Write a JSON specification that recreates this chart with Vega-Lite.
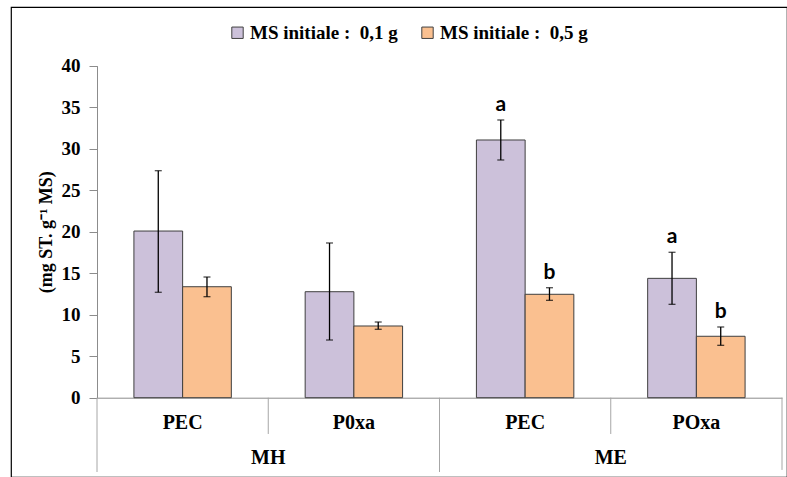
{
  "$schema": "https://vega.github.io/schema/vega-lite/v6.json",
  "width": 776,
  "height": 470,
  "autosize": {"type": "none"},
  "padding": {"left": 11, "top": 7, "right": 0, "bottom": 0},
  "background": "white",
  "config": {
    "view": {"stroke": "#000000", "strokeWidth": 1.2},
    "font": "Liberation Serif",
    "legend": {"labelFont": "Liberation Serif", "labelFontWeight": "bold"},
    "axis": {"labelFont": "Liberation Serif", "titleFont": "Liberation Serif"},
    "axisX": {"offset": -79.3, "domainColor": "#8c8c8c", "ticks": false, "labels": false, "grid": false},
    "axisY": {"offset": -86, "domainColor": "#8c8c8c", "tickColor": "#8c8c8c", "tickSize": 8, "labelPadding": 9,
      "labelFont": "Liberation Serif", "labelFontSize": 19, "labelFontWeight": "bold", "labelColor": "#000000",
      "titleFont": "Liberation Serif", "titleFontSize": 18, "titleFontWeight": "bold", "titleColor": "#000000",
      "titlePadding": 6, "grid": false}
  },
  "data": {
    "values": [
      {"type": "MH", "sub": "PEC", "key": "MH|PEC", "series": "MS initiale : \u00a00,1 g", "value": 20.08, "lo": 12.7, "hi": 27.35, "letter": null},
      {"type": "MH", "sub": "PEC", "key": "MH|PEC", "series": "MS initiale : \u00a00,5 g", "value": 13.37, "lo": 12.17, "hi": 14.54, "letter": null},
      {"type": "MH", "sub": "P0xa", "key": "MH|P0xa", "series": "MS initiale : \u00a00,1 g", "value": 12.77, "lo": 6.95, "hi": 18.64, "letter": null},
      {"type": "MH", "sub": "P0xa", "key": "MH|P0xa", "series": "MS initiale : \u00a00,5 g", "value": 8.64, "lo": 8.24, "hi": 9.12, "letter": null},
      {"type": "ME", "sub": "PEC", "key": "ME|PEC", "series": "MS initiale : \u00a00,1 g", "value": 31.05, "lo": 28.64, "hi": 33.46, "letter": "a"},
      {"type": "ME", "sub": "PEC", "key": "ME|PEC", "series": "MS initiale : \u00a00,5 g", "value": 12.46, "lo": 11.73, "hi": 13.25, "letter": "b"},
      {"type": "ME", "sub": "POxa", "key": "ME|POxa", "series": "MS initiale : \u00a00,1 g", "value": 14.38, "lo": 11.25, "hi": 17.52, "letter": "a"},
      {"type": "ME", "sub": "POxa", "key": "ME|POxa", "series": "MS initiale : \u00a00,5 g", "value": 7.4, "lo": 6.31, "hi": 8.52, "letter": "b"}
    ]
  },
  "layer": [
    {
      "mark": {"type": "bar", "stroke": "#3f3f3f", "strokeWidth": 1},
      "encoding": {
        "x": {"field": "key", "type": "nominal", "sort": null, "title": null,
          "scale": {"range": [86, 771], "paddingInner": 0, "paddingOuter": 0}},
        "xOffset": {"field": "series", "type": "nominal", "sort": null, "scale": {"paddingOuter": 0.758, "paddingInner": 0}},
        "y": {"field": "value", "type": "quantitative", "title": "(mg ST. g\u207b\u00b9 MS)",
          "scale": {"domain": [0, 40], "range": [390.7, 58.7], "nice": false, "zero": true},
          "axis": {"values": [0, 5, 10, 15, 20, 25, 30, 35, 40], "labelFont": "Liberation Serif", "labelFontWeight": "bold", "labelFontSize": 19}},
        "color": {"field": "series", "type": "nominal", "sort": null,
          "scale": {"range": ["#CCC1DA", "#FAC090"]},
          "legend": {"orient": "none", "legendX": 217, "legendY": 16, "direction": "horizontal", "title": null,
            "padding": 0, "symbolType": "square", "symbolSize": 130, "symbolStrokeColor": "#404040", "symbolStrokeWidth": 1,
            "labelFont": "Liberation Serif", "labelFontSize": 19, "labelFontWeight": "bold", "labelColor": "#000000",
            "columnPadding": 20, "labelOffset": 3, "labelLimit": 300}}
      }
    },
    {
      "mark": {"type": "rule", "color": "#000000", "strokeWidth": 1.3},
      "encoding": {
        "x": {"field": "key", "type": "nominal", "sort": null, "title": null},
        "xOffset": {"field": "series", "type": "nominal", "sort": null},
        "y": {"field": "lo", "type": "quantitative", "title": "(mg ST. g\u207b\u00b9 MS)"},
        "y2": {"field": "hi"}
      }
    },
    {
      "mark": {"type": "tick", "color": "#000000", "size": 7, "thickness": 1.3},
      "encoding": {
        "x": {"field": "key", "type": "nominal", "sort": null, "title": null},
        "xOffset": {"field": "series", "type": "nominal", "sort": null},
        "y": {"field": "hi", "type": "quantitative", "title": "(mg ST. g\u207b\u00b9 MS)"}
      }
    },
    {
      "mark": {"type": "tick", "color": "#000000", "size": 7, "thickness": 1.3},
      "encoding": {
        "x": {"field": "key", "type": "nominal", "sort": null, "title": null},
        "xOffset": {"field": "series", "type": "nominal", "sort": null},
        "y": {"field": "lo", "type": "quantitative", "title": "(mg ST. g\u207b\u00b9 MS)"}
      }
    },
    {
      "transform": [{"filter": "datum.letter != null"}],
      "mark": {"type": "text", "font": "Lato", "fontWeight": "bold", "fontSize": 21, "dy": -9, "baseline": "alphabetic", "color": "#000000"},
      "encoding": {
        "x": {"field": "key", "type": "nominal", "sort": null, "title": null},
        "xOffset": {"field": "series", "type": "nominal", "sort": null},
        "y": {"field": "hi", "type": "quantitative", "title": "(mg ST. g\u207b\u00b9 MS)"},
        "text": {"field": "letter"}
      }
    },
    {
      "transform": [{"filter": "datum.series == 'MS initiale : \u00a00,1 g'"}],
      "mark": {"type": "text", "font": "Liberation Serif", "fontWeight": "bold", "fontSize": 20, "baseline": "middle", "color": "#000000"},
      "encoding": {
        "x": {"field": "key", "type": "nominal", "sort": null, "title": null},
        "y": {"datum": -3, "title": "(mg ST. g\u207b\u00b9 MS)"},
        "text": {"field": "sub"}
      }
    },
    {
      "transform": [{"filter": "datum.series == 'MS initiale : \u00a00,1 g' && datum.sub != 'PEC'"}],
      "mark": {"type": "text", "font": "Liberation Serif", "fontWeight": "bold", "fontSize": 20, "baseline": "middle", "color": "#000000"},
      "encoding": {
        "x": {"field": "key", "type": "nominal", "sort": null, "title": null, "bandPosition": 0},
        "y": {"datum": -7.3, "title": "(mg ST. g\u207b\u00b9 MS)"},
        "text": {"field": "type"}
      }
    },
    {
      "transform": [{"filter": "datum.series == 'MS initiale : \u00a00,1 g' && datum.sub != 'PEC'"}],
      "mark": {"type": "rule", "color": "#a6a6a6", "strokeWidth": 1},
      "encoding": {
        "x": {"field": "key", "type": "nominal", "sort": null, "title": null, "bandPosition": 0},
        "y": {"datum": 0, "title": "(mg ST. g\u207b\u00b9 MS)"},
        "y2": {"datum": -4.37}
      }
    },
    {
      "transform": [{"filter": "datum.series == 'MS initiale : \u00a00,1 g' && datum.sub == 'PEC'"}],
      "mark": {"type": "rule", "color": "#a6a6a6", "strokeWidth": 1},
      "encoding": {
        "x": {"field": "key", "type": "nominal", "sort": null, "title": null, "bandPosition": 0},
        "y": {"datum": 0, "title": "(mg ST. g\u207b\u00b9 MS)"},
        "y2": {"datum": -8.95}
      }
    },
    {
      "transform": [{"filter": "datum.series == 'MS initiale : \u00a00,1 g' && datum.key == 'ME|POxa'"}],
      "mark": {"type": "rule", "color": "#a6a6a6", "strokeWidth": 1},
      "encoding": {
        "x": {"field": "key", "type": "nominal", "sort": null, "title": null, "bandPosition": 1},
        "y": {"datum": 0, "title": "(mg ST. g\u207b\u00b9 MS)"},
        "y2": {"datum": -8.7}
      }
    }
  ]
}
